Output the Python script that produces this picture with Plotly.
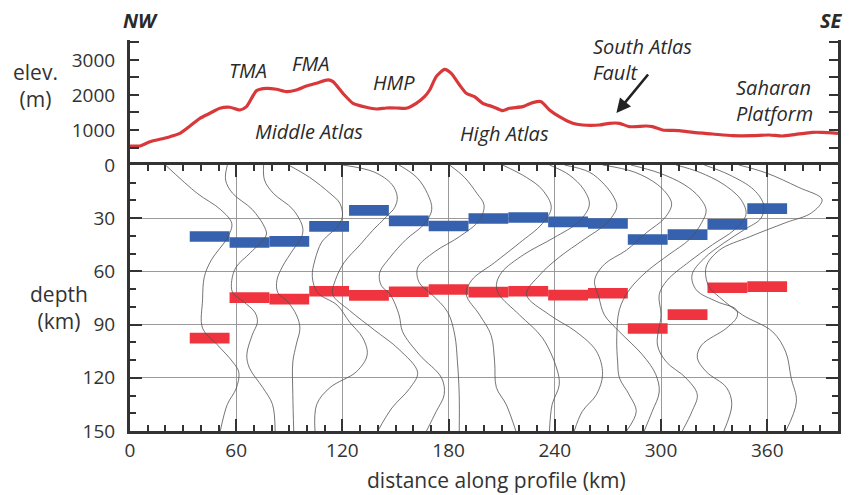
import plotly.graph_objects as go

# ---------------- data ----------------
# topography along profile
dist_elev_km = [0, 5.6, 11.3, 16.9, 22.6, 28.2, 33.9, 39.5, 45.1, 50.8,
                56.4, 62.1, 65.8, 71.5, 77.1, 82.8, 88.4, 94, 99.7, 105.3,
                111.9, 114.7, 120.3, 126, 133.5, 139.2, 144.8, 150.5, 156.1, 161.7,
                166.4, 169.3, 173, 177.7, 181.5, 186.2, 190, 194.6, 199.3, 205,
                210.6, 214.4, 221.9, 227.5, 232.3, 237, 242.6, 250.1, 255.7, 265.2,
                270.8, 276.5, 282.1, 291.5, 295.2, 300.9, 310.3, 319.7, 329.1, 340.4,
                351.7, 361.1, 368.6, 376.1, 385.5, 391.1, 400]
elev_m = [543, 543, 666, 734, 809, 905, 1114, 1334, 1477, 1620,
          1649, 1571, 1667, 2124, 2191, 2163, 2095, 2143, 2257, 2334,
          2429, 2381, 2048, 1762, 1649, 1600, 1629, 1629, 1620, 1762,
          1952, 2143, 2524, 2734, 2619, 2286, 2048, 1952, 1762, 1667,
          1552, 1620, 1667, 1781, 1810, 1571, 1381, 1191, 1143, 1143,
          1191, 1191, 1095, 1114, 1095, 1000, 981, 924, 886, 838,
          838, 857, 829, 876, 933, 933, 905]

# bins along profile
bin_center_km = [45, 67.5, 90, 112.5, 135, 157.5, 180, 202.5, 225, 247.5,
                 270, 292.5, 315, 337.5, 360]
moho_depth_km = [40.3, 43.7, 43.1, 34.6, 25.6, 31.5, 34.4, 30.2, 29.6, 32.1,
                 33.0, 42.0, 39.3, 33.5, 24.6]
lab_depth_km = [97.6, 74.8, 75.6, 71.2, 73.5, 71.5, 70.2, 71.7, 71.2, 73.4,
                72.3, 92.2, 84.4, 69.2, 68.6]

# stacked receiver-function wiggles (distance km, depth km)
rf_x_km = [
    [20, 38, 51, 57.5, 55, 46, 42, 41, 41, 49, 58, 61.5, 60, 55, 51],
    [55, 54, 58, 69, 76, 77, 68, 60, 57.5, 58, 64, 70.5, 72, 69, 66, 67.5, 75, 80.5, 82],
    [75.5, 76, 81, 92, 97.5, 97, 92, 86, 83, 83.5, 89, 94, 96, 94, 92, 92, 92.5],
    [89.5, 101.5, 113, 118.5, 120, 117, 111, 108, 104.5, 103, 106, 117, 124, 131.5, 134, 128, 113, 105.5, 104.5],
    [120, 138, 148, 151, 149.5, 145, 137, 130, 121, 116, 114.5, 124, 138, 152, 162.5, 158, 148, 140],
    [152, 162, 168, 170.5, 166.5, 156, 147, 141, 142, 147, 152, 154, 163.5, 176, 177.5, 173, 167.5],
    [180.5, 189, 196, 200, 197.5, 186, 172, 162.5, 163.5, 170.5, 179.5, 183.5, 185, 186, 186],
    [210.5, 224, 233, 238, 233, 220, 206, 193, 190, 197.5, 204, 206, 207, 212.5, 218],
    [237, 248, 256.5, 259.5, 253.5, 239.5, 222.5, 210, 207, 208.5, 220, 233, 241, 242.5, 238.5, 237],
    [245.5, 259.5, 268, 273.5, 275, 269, 256.5, 242.5, 231.5, 224, 237, 252, 263.5, 267, 263.5, 255.5, 251],
    [267, 285, 298, 304.5, 306, 302, 292, 280.5, 268, 262.5, 265, 268, 276.5, 289.5, 297, 299, 295, 290.5],
    [283, 299, 313, 321.5, 325.5, 323, 316, 304.5, 292, 282, 276.5, 275, 275.5, 276.5, 282, 286, 280.5],
    [308.5, 321.5, 335.5, 345.5, 348, 341.5, 329, 316, 303.5, 299, 300, 298, 303, 314, 320.5, 317.5, 312],
    [324.5, 338.5, 352.5, 358, 356.5, 347, 335.5, 324.5, 317.5, 320, 331.5, 342.5, 343, 337, 323, 320.5, 325.5, 337, 340, 335.5],
    [344, 359.5, 377.5, 391, 385, 370.5, 350, 333, 325.5, 327, 333, 346, 363, 370.5, 373.5, 376.5, 370.5],
]
rf_depth_km = [
    [0, 16, 25, 33, 41, 53.5, 63, 76, 92, 101, 111, 117, 126, 135, 150],
    [0, 8.5, 16, 25, 35, 39.5, 49.5, 57.5, 65, 72, 77, 83, 88.5, 96, 107, 114.5, 125.5, 135, 150],
    [0, 8.5, 16, 25, 35, 40.5, 48, 57.5, 65, 72, 77, 84.5, 92, 101, 111, 129.5, 150],
    [0, 7, 16, 21.5, 29, 35, 40.5, 44, 53.5, 63, 72, 79, 88.5, 97.5, 107, 116.5, 125.5, 135, 150],
    [0, 4, 11, 18, 24, 29, 37, 45, 55, 65, 73, 82, 93, 104, 117, 126, 137, 150],
    [0, 7, 16, 25, 33, 42, 52, 61, 68, 73, 84.5, 94, 107, 120, 129.5, 139, 150],
    [0, 7, 16, 22.5, 31, 40.5, 49, 58, 66.5, 73, 83, 96, 111, 129.5, 150],
    [0, 7, 14, 24, 33, 44, 55, 65, 73, 84.5, 96, 111, 125.5, 135, 150],
    [0, 5.5, 14, 22.5, 32, 41, 50.5, 60.5, 67.5, 73, 84.5, 97.5, 114.5, 124, 135, 150],
    [0, 4, 11, 18.5, 24, 33, 42, 52, 62, 73, 84.5, 94, 105, 118, 129.5, 139, 150],
    [0, 4, 11, 18, 22.5, 30, 38, 48, 56, 65, 75, 84.5, 94, 107, 118, 128, 139, 150],
    [0, 4.5, 11, 18, 25.5, 32.5, 42, 50.5, 60, 70.5, 81.5, 97.5, 111, 120, 129.5, 139, 150],
    [0, 4, 11, 20, 28, 36.5, 45, 54.5, 65, 73, 84.5, 101.5, 111, 120, 129.5, 139, 150],
    [0, 5.5, 14, 22.5, 30, 36.5, 44, 52.5, 62, 70.5, 77, 81.5, 85.5, 92, 101.5, 108.5, 116.5, 125.5, 135, 150],
    [0, 4.5, 12.5, 19.5, 27, 32.5, 40.5, 48, 57.5, 68.5, 74.5, 84.5, 94, 105.5, 120, 133.5, 150],
]

# ---------------- styles ----------------
FONT = "Open Sans"
AX = "#333333"
TXT = "#2a2a2a"
GRID = "#9a9a9a"
BLUE = "#3661ae"
RED_BAR = "#ef343f"
RED_LINE = "#d8383a"
BIN_W = 22.5
BAR_H = 6.0

fig = go.Figure()

# bars
fig.add_trace(go.Bar(x=bin_center_km, y=[BAR_H] * len(moho_depth_km),
                     base=[d - BAR_H / 2 for d in moho_depth_km], width=BIN_W,
                     marker=dict(color=BLUE, line=dict(width=0)),
                     xaxis="x", yaxis="y", showlegend=False, hoverinfo="skip"))
fig.add_trace(go.Bar(x=bin_center_km, y=[BAR_H] * len(lab_depth_km),
                     base=[d - BAR_H / 2 for d in lab_depth_km], width=BIN_W,
                     marker=dict(color=RED_BAR, line=dict(width=0)),
                     xaxis="x", yaxis="y", showlegend=False, hoverinfo="skip"))

# wiggles
for xs, ds in zip(rf_x_km, rf_depth_km):
    fig.add_trace(go.Scatter(x=xs, y=ds, mode="lines", xaxis="x", yaxis="y",
                             line=dict(color="#505050", width=0.8, shape="spline", smoothing=1.0),
                             showlegend=False, hoverinfo="skip"))

# topography
fig.add_trace(go.Scatter(x=dist_elev_km, y=elev_m, mode="lines", xaxis="x2", yaxis="y2",
                         line=dict(color=RED_LINE, width=3.2, shape="spline", smoothing=0.6),
                         showlegend=False, hoverinfo="skip"))

SPLIT = 266 / 391

fig.update_layout(
    width=849, height=495,
    margin=dict(l=130, r=11, t=40, b=64),
    paper_bgcolor="white", plot_bgcolor="white",
    barmode="overlay",
    font=dict(family=FONT, size=19, color=AX),
    xaxis=dict(domain=[0, 1], anchor="y", range=[0, 400], tick0=0, dtick=60,
               ticks="inside", ticklen=12, tickwidth=1.5, tickcolor=AX,
               minor=dict(dtick=10, tick0=0, ticks="inside", ticklen=6, tickwidth=1.5, tickcolor=AX),
               showline=True, linewidth=3, linecolor=AX, mirror="ticks",
               showgrid=True, gridcolor=GRID, gridwidth=1, zeroline=False,
               automargin=False, tickfont=dict(size=19, color=AX)),
    yaxis=dict(domain=[0, SPLIT], anchor="x", range=[150, 0], tick0=0, dtick=30,
               ticks="inside", ticklen=12, tickwidth=1.5, tickcolor=AX,
               minor=dict(dtick=10, tick0=0, ticks="inside", ticklen=6, tickwidth=1.5, tickcolor=AX),
               showline=True, linewidth=3, linecolor=AX, mirror="ticks",
               showgrid=True, gridcolor=GRID, gridwidth=1, zeroline=False,
               ticklabelstandoff=8, automargin=False,
               tickfont=dict(size=19, color=AX)),
    xaxis2=dict(domain=[0, 1], anchor="y2", range=[0, 400], matches="x", visible=False),
    yaxis2=dict(domain=[SPLIT, 1], anchor="x2", range=[0, 3571], tick0=0, dtick=1000,
                labelalias={"0": ""},
                ticks="inside", ticklen=9, tickwidth=1.5, tickcolor=AX,
                minor=dict(dtick=500, tick0=0, ticks="inside", ticklen=9, tickwidth=1.5, tickcolor=AX),
                showline=True, linewidth=3, linecolor=AX, mirror="ticks",
                showgrid=False, zeroline=False, ticklabelstandoff=8, automargin=False,
                tickfont=dict(size=19, color=AX)),
)

ann = []
# axis titles
ann.append(dict(text="elev.<br>(m)", xref="paper", yref="paper", x=-0.133, y=0.8836,
                showarrow=False, font=dict(size=21), xanchor="center", yanchor="middle",
                align="center"))
ann.append(dict(text="depth<br>(km)", xref="paper", yref="paper", x=-0.0996, y=0.3159,
                showarrow=False, font=dict(size=21), xanchor="center", yanchor="middle",
                align="center"))
ann.append(dict(text="distance along profile (km)", xref="paper", yref="paper", x=0.517, y=-0.1253,
                showarrow=False, font=dict(size=21), xanchor="center", yanchor="middle"))
ann.append(dict(text="<b><i>NW</i></b>", xref="paper", yref="paper", x=0.0155, y=1.051,
                showarrow=False, font=dict(size=20, color=TXT), xanchor="center", yanchor="middle"))
ann.append(dict(text="<b><i>SE</i></b>", xref="paper", yref="paper", x=0.9915, y=1.051,
                showarrow=False, font=dict(size=20, color=TXT), xanchor="center", yanchor="middle"))

# region labels in elevation panel
labels_c = [("TMA", 66.9, 2714), ("FMA", 102.5, 2900), ("HMP", 148.9, 2357),
            ("Middle Atlas", 101, 943), ("High Atlas", 211.6, 914)]
for t, x, y in labels_c:
    ann.append(dict(text="<i>%s</i>" % t, xref="x2", yref="y2", x=x, y=y, showarrow=False,
                    font=dict(size=20, color=TXT), xanchor="center", yanchor="middle"))
labels_l = [("South Atlas<br>Fault", 260.6, 3014), ("Saharan<br>Platform", 341.3, 1843)]
for t, x, y in labels_l:
    ann.append(dict(text="<i>%s</i>" % t.replace("<br>", "</i><br><i>"), xref="x2", yref="y2",
                    x=x, y=y, showarrow=False, align="left",
                    font=dict(size=20, color=TXT), xanchor="left", yanchor="middle"))
ann.append(dict(text="", xref="x2", yref="y2", x=274.8, y=1486, axref="x2", ayref="y2",
                ax=293.4, ay=2629, showarrow=True, arrowhead=2, arrowsize=1.1,
                arrowwidth=2.6, arrowcolor="#222"))
fig.update_layout(annotations=ann)

# remove the browser's default 8px body margin so the figure sits at the page origin
fig.write_html("out.html", config={"displayModeBar": False},
               post_script="document.body.style.margin='0px';")
